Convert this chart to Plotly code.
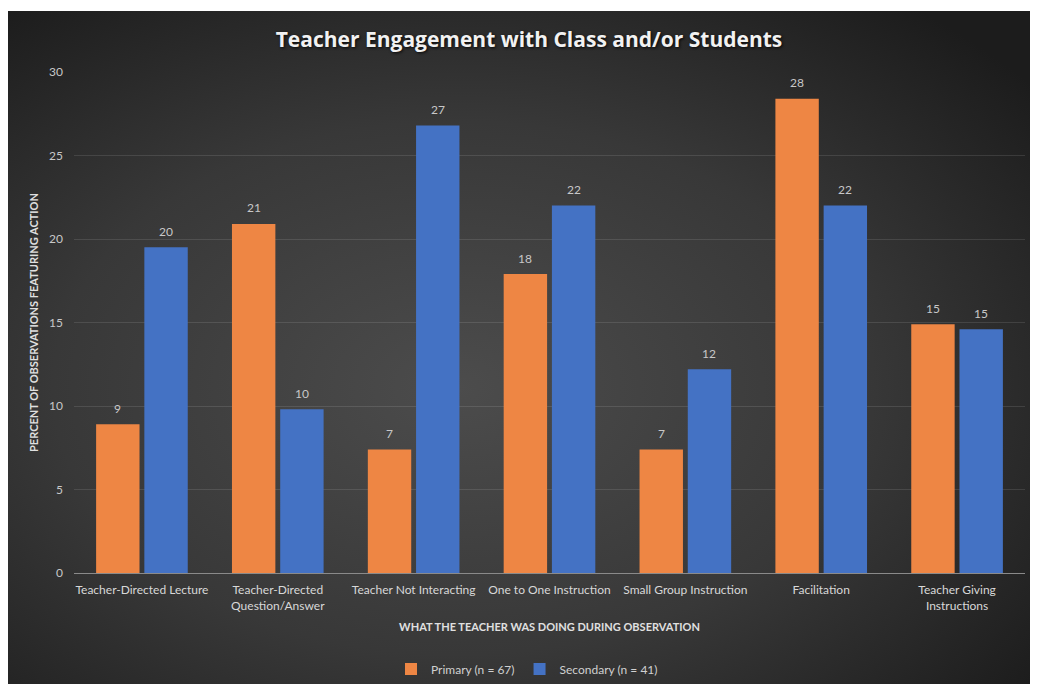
import base64
import plotly.graph_objects as go

# Observation categories and percentages for each school level
categories = [
    "Teacher-Directed Lecture",
    "Teacher-Directed<br>Question/Answer",
    "Teacher Not Interacting",
    "One to One Instruction",
    "Small Group Instruction",
    "Facilitation",
    "Teacher Giving<br>Instructions",
]
primary = [8.9, 20.9, 7.4, 17.9, 7.4, 28.4, 14.9]
secondary = [19.5, 9.8, 26.8, 22.0, 12.2, 22.0, 14.6]
primary_name = "Primary (n = 67)"
secondary_name = "Secondary (n = 41)"
y_ticks = [0, 5, 10, 15, 20, 25, 30]

FONT = "Lato, 'Open Sans', sans-serif"
TITLE_FONT = "'Open Sans', Lato, sans-serif"
W, H = 1039, 687
ML, MR, MT, MB = 74, 14, 72, 114
PW, PH = W - ML - MR, H - MT - MB

# Dark radial-gradient panel behind the chart
svg = (
    "<svg xmlns='http://www.w3.org/2000/svg' width='1022' height='672' "
    "viewBox='0 0 1022 672' preserveAspectRatio='none'>"
    "<defs><radialGradient id='g' cx='0.44' cy='0.56' r='0.72'>"
    "<stop offset='0' stop-color='#4c4c4c'/>"
    "<stop offset='0.55' stop-color='#383838'/>"
    "<stop offset='1' stop-color='#1c1c1c'/>"
    "</radialGradient></defs>"
    "<rect width='1022' height='672' fill='url(#g)'/></svg>"
)
bg_src = "data:image/svg+xml;base64," + base64.b64encode(svg.encode()).decode()

panel_x0, panel_x1 = 8, 1030
panel_y0, panel_y1 = 11, 684


def px_to_paper_x(px):
    return (px - ML) / PW


def px_to_paper_y(py):
    return (H - MB - py) / PH


fig = go.Figure()
fig.add_trace(go.Bar(
    name=primary_name, x=categories, y=primary,
    marker=dict(color="#EE8644", line=dict(width=0)),
))
fig.add_trace(go.Bar(
    name=secondary_name, x=categories, y=secondary,
    marker=dict(color="#4472C4", line=dict(width=0)),
))

# Value labels above each bar
slot_shift = PW / len(categories) * (1 - 0.29) / 4
for vals, shift in ((primary, -slot_shift), (secondary, slot_shift)):
    for cat, v in zip(categories, vals):
        fig.add_annotation(
            x=cat, y=v, text=f"{v:.0f}", showarrow=False,
            xshift=shift, yshift=16, yanchor="middle",
            font=dict(family=FONT, size=12, color="#C8C8C8"),
        )

fig.add_layout_image(
    source=bg_src, xref="paper", yref="paper",
    x=px_to_paper_x(panel_x0), y=px_to_paper_y(panel_y0),
    sizex=px_to_paper_x(panel_x1) - px_to_paper_x(panel_x0),
    sizey=px_to_paper_y(panel_y0) - px_to_paper_y(panel_y1),
    xanchor="left", yanchor="top", sizing="stretch", layer="below",
)

fig.update_layout(
    width=W, height=H,
    margin=dict(l=ML, r=MR, t=MT, b=MB, pad=0, autoexpand=False),
    paper_bgcolor="white",
    plot_bgcolor="rgba(0,0,0,0)",
    barmode="group", bargap=0.29, bargroupgap=0.1,
    title=dict(
        text="<b>Teacher Engagement with Class and/or Students</b>",
        x=px_to_paper_x(529), xref="paper", xanchor="center",
        y=1 - 40 / H, yanchor="middle",
        font=dict(family=TITLE_FONT, size=21, color="#F2F2F2",
                  shadow="1px 1px 3px rgba(0,0,0,0.85)"),
    ),
    font=dict(family=FONT, color="#D0D0D0"),
    legend=dict(
        orientation="h", xref="container", yref="container",
        x=527 / W, xanchor="center",
        y=(H - 669) / H, yanchor="middle",
        font=dict(family=FONT, size=12, color="#D0D0D0"),
        bgcolor="rgba(0,0,0,0)", itemwidth=30,
    ),
    showlegend=True,
)

fig.update_xaxes(
    showgrid=False, showline=False, ticks="", automargin=False,
    ticklabelstandoff=8,
    tickfont=dict(family=FONT, size=12, color="#D8D8D8"),
    title=dict(
        text="<b>WHAT THE TEACHER WAS DOING DURING OBSERVATION</b>",
        font=dict(family=FONT, size=11, color="#E0E0E0"), standoff=11,
    ),
    fixedrange=True,
)
fig.update_yaxes(
    range=[0, 30], tickvals=y_ticks, ticks="", automargin=False,
    showgrid=True, gridcolor="rgba(255,255,255,0.11)", gridwidth=1,
    zeroline=True, zerolinecolor="#8a8a8a", zerolinewidth=1,
    showline=False, ticklabelstandoff=10,
    tickfont=dict(family=FONT, size=12, color="#C8C8C8"),
    title=dict(
        text="<b>PERCENT OF OBSERVATIONS FEATURING ACTION</b>",
        font=dict(family=FONT, size=11, color="#E0E0E0"), standoff=8,
    ),
    fixedrange=True,
)

fig.write_html("out.html")
